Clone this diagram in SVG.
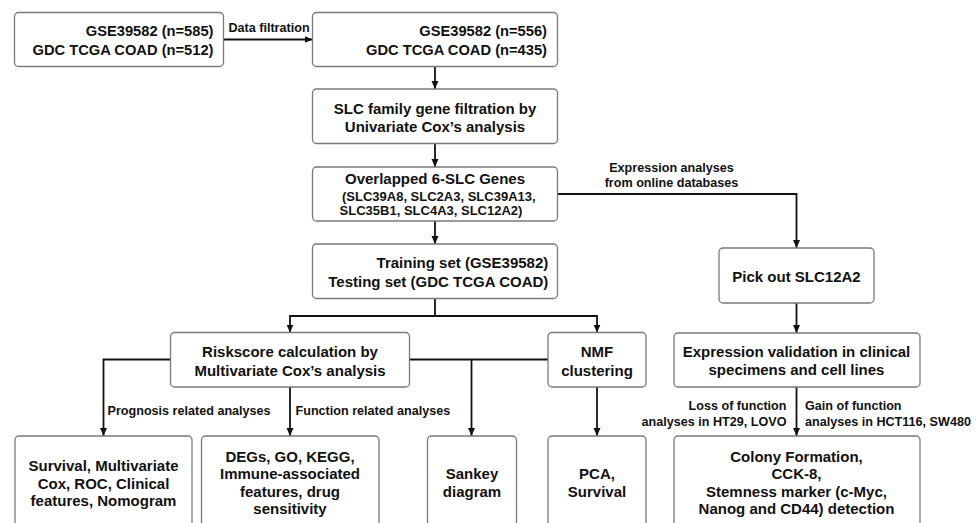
<svg xmlns="http://www.w3.org/2000/svg" width="977" height="523" viewBox="0 0 977 523">
<defs>
<marker id="ah" markerUnits="userSpaceOnUse" markerWidth="9" markerHeight="9" refX="8" refY="4" orient="auto">
<path d="M0,0.5 L8,4 L0,7.5 z" fill="#111"/>
</marker>
<style>
.box{fill:#fff;stroke:#7a7a7a;stroke-width:1.3}
.t{font-family:"Liberation Sans",Arial,sans-serif;font-weight:bold;fill:#111}
.m{font-size:15px;text-anchor:middle}
.r{font-size:14.7px;text-anchor:end}
.s{font-size:13px;text-anchor:middle}
.l{font-size:12.6px}
.c{fill:none;stroke:#111;stroke-width:1.8}
.a{marker-end:url(#ah)}
</style>
</defs>
<rect width="977" height="523" fill="#fff"/>
<g id="connectors">
<path class="c a" d="M223.5,39.5 H312.5"/>
<path class="c a" d="M435,66.5 V89"/>
<path class="c a" d="M435,143.5 V167"/>
<path class="c a" d="M435,221 V244"/>
<path class="c a" d="M557.5,194 H796.5 V248"/>
<path class="c" d="M435,298.5 V316"/>
<path class="c a" d="M435,316 H290 V332.5"/>
<path class="c a" d="M435,316 H597 V332.5"/>
<path class="c a" d="M170.5,359.5 H103.5 V436"/>
<path class="c" d="M409.5,359.5 H548"/>
<path class="c a" d="M471.5,359.5 V436"/>
<path class="c a" d="M290,387 V436"/>
<path class="c a" d="M597,387 V436"/>
<path class="c a" d="M796.5,303 V333"/>
<path class="c a" d="M796.5,387 V436"/>
</g>
<g id="labels">
<text class="t l" x="269" y="32" text-anchor="middle">Data filtration</text>
<text class="t l" x="671.5" y="171.5" text-anchor="middle">Expression analyses</text>
<text class="t l" x="671.5" y="187" text-anchor="middle">from online databases</text>
<text class="t l" x="107.5" y="415">Prognosis related analyses</text>
<text class="t l" x="295.5" y="415">Function related analyses</text>
<text class="t l" x="786.5" y="410" text-anchor="end">Loss of function</text>
<text class="t l" x="786.5" y="426" text-anchor="end">analyses in HT29, LOVO</text>
<text class="t l" x="805" y="410">Gain of function</text>
<text class="t l" x="805" y="426">analyses in HCT116, SW480</text>
</g>
<g id="n1">
<rect class="box" x="14.5" y="12.5" width="209" height="54" rx="4"/>
<text class="t r" x="213.5" y="36">GSE39582 (n=585)</text>
<text class="t r" x="213.5" y="55">GDC TCGA COAD (n=512)</text>
</g>
<g id="n2">
<rect class="box" x="312.5" y="12.5" width="245" height="54" rx="4"/>
<text class="t r" x="547" y="36">GSE39582 (n=556)</text>
<text class="t r" x="547" y="55">GDC TCGA COAD (n=435)</text>
</g>
<g id="n3">
<rect class="box" x="312.5" y="89" width="245" height="54.5" rx="4"/>
<text class="t m" x="435" y="113.5">SLC family gene filtration by</text>
<text class="t m" x="435" y="131.5">Univariate Cox’s analysis</text>
</g>
<g id="n4">
<rect class="box" x="312.5" y="167" width="245" height="54" rx="4"/>
<text class="t m" x="435" y="183.5">Overlapped 6-SLC Genes</text>
<text class="t s" x="438.8" y="200.5">(SLC39A8, SLC2A3, SLC39A13,</text>
<text class="t s" x="431" y="215">SLC35B1, SLC4A3, SLC12A2)</text>
</g>
<g id="n5">
<rect class="box" x="312.5" y="244" width="245" height="54.5" rx="4"/>
<text class="t" x="548.3" y="268" font-size="15" text-anchor="end">Training set (GSE39582)</text>
<text class="t" x="548.3" y="287" font-size="15" text-anchor="end">Testing set (GDC TCGA COAD)</text>
</g>
<g id="n6">
<rect class="box" x="170.5" y="332.5" width="239" height="54.5" rx="4"/>
<text class="t m" x="290" y="357.3">Riskscore calculation by</text>
<text class="t m" x="290" y="375.5">Multivariate Cox’s analysis</text>
</g>
<g id="n7">
<rect class="box" x="548" y="332.5" width="98" height="54.5" rx="4"/>
<text class="t m" x="597" y="357.3">NMF</text>
<text class="t m" x="597" y="375.5">clustering</text>
</g>
<g id="n8">
<rect class="box" x="719" y="248" width="155" height="55" rx="4"/>
<text class="t m" x="796.5" y="281.7">Pick out SLC12A2</text>
</g>
<g id="n9">
<rect class="box" x="674" y="333" width="246" height="54" rx="4"/>
<text class="t m" x="796.5" y="356.7">Expression validation in clinical</text>
<text class="t m" x="796.5" y="375">specimens and cell lines</text>
</g>
<g id="n10">
<rect class="box" x="15" y="436" width="177" height="100" rx="4"/>
<text class="t m" x="103.5" y="471">Survival, Multivariate</text>
<text class="t m" x="103.5" y="488.5">Cox, ROC, Clinical</text>
<text class="t m" x="103.5" y="506">features, Nomogram</text>
</g>
<g id="n11">
<rect class="box" x="201.5" y="436" width="177.5" height="100" rx="4"/>
<text class="t m" x="290" y="461.5">DEGs, GO, KEGG,</text>
<text class="t m" x="290" y="479">Immune-associated</text>
<text class="t m" x="290" y="496.5">features, drug</text>
<text class="t m" x="290" y="514">sensitivity</text>
</g>
<g id="n12">
<rect class="box" x="427.5" y="436" width="89" height="100" rx="4"/>
<text class="t m" x="472" y="479">Sankey</text>
<text class="t m" x="472" y="496.5">diagram</text>
</g>
<g id="n13">
<rect class="box" x="548" y="436" width="98" height="100" rx="4"/>
<text class="t m" x="597" y="479">PCA,</text>
<text class="t m" x="597" y="496.5">Survival</text>
</g>
<g id="n14">
<rect class="box" x="674" y="436" width="246" height="100" rx="4"/>
<text class="t m" x="796.5" y="461.5">Colony Formation,</text>
<text class="t m" x="796.5" y="479">CCK-8,</text>
<text class="t m" x="796.5" y="496.5">Stemness marker (c-Myc,</text>
<text class="t m" x="796.5" y="514">Nanog and CD44) detection</text>
</g>
</svg>
